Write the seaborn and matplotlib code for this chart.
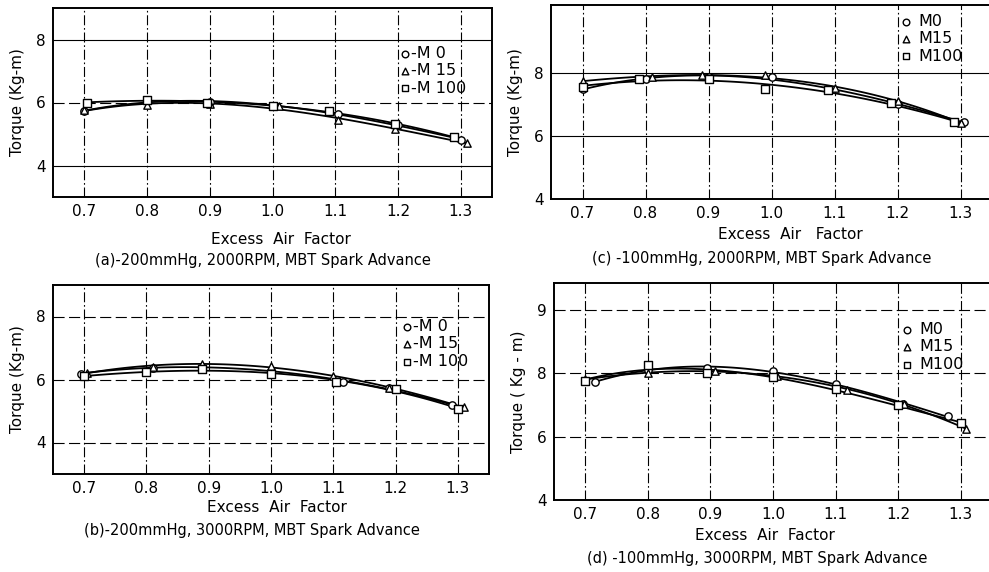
import numpy as np
import pandas as pd
import seaborn as sns
import matplotlib
matplotlib.use("Agg")
import matplotlib.pyplot as plt

sns.set_style("white")
plt.rcParams['font.family'] = ['DejaVu Sans']
plt.rcParams['text.color'] = 'black'
plt.rcParams['axes.labelcolor'] = 'black'

# ---------------- data ----------------
# (a) -200mmHg, 2000RPM
a_m0_x = [0.70, 0.80, 0.90, 1.00, 1.105, 1.20, 1.30]
a_m0_y = [5.72, 6.05, 6.03, 5.88, 5.62, 5.30, 4.82]
a_m15_x = [0.70, 0.80, 0.90, 1.01, 1.105, 1.195, 1.31]
a_m15_y = [5.75, 5.92, 5.95, 5.88, 5.45, 5.15, 4.72]
a_m100_x = [0.705, 0.80, 0.895, 1.00, 1.09, 1.195, 1.29]
a_m100_y = [6.00, 6.08, 6.00, 5.90, 5.72, 5.32, 4.90]

# (b) -200mmHg, 3000RPM
b_m0_x = [0.695, 0.81, 0.89, 1.00, 1.115, 1.19, 1.29]
b_m0_y = [6.19, 6.38, 6.38, 6.28, 5.93, 5.72, 5.20]
b_m15_x = [0.705, 0.81, 0.89, 1.00, 1.10, 1.19, 1.31]
b_m15_y = [6.22, 6.40, 6.50, 6.43, 6.11, 5.72, 5.12]
b_m100_x = [0.70, 0.80, 0.89, 1.00, 1.105, 1.20, 1.30]
b_m100_y = [6.10, 6.24, 6.32, 6.17, 5.93, 5.70, 5.06]

# (c) -100mmHg, 2000RPM
c_m0_x = [0.70, 0.80, 0.90, 1.00, 1.09, 1.20, 1.305]
c_m0_y = [7.48, 7.81, 7.88, 7.88, 7.45, 7.02, 6.43]
c_m15_x = [0.70, 0.81, 0.89, 0.99, 1.10, 1.20, 1.30]
c_m15_y = [7.75, 7.86, 7.92, 7.92, 7.52, 7.10, 6.42]
c_m100_x = [0.70, 0.79, 0.90, 0.99, 1.09, 1.19, 1.29]
c_m100_y = [7.55, 7.80, 7.80, 7.48, 7.45, 7.04, 6.45]

# (d) -100mmHg, 3000RPM
d_m0_x = [0.715, 0.80, 0.895, 1.00, 1.10, 1.207, 1.28]
d_m0_y = [7.73, 8.10, 8.18, 8.07, 7.67, 7.02, 6.64]
d_m15_x = [0.70, 0.80, 0.908, 1.007, 1.119, 1.21, 1.308]
d_m15_y = [7.81, 8.00, 8.07, 7.92, 7.46, 7.02, 6.25]
d_m100_x = [0.70, 0.80, 0.895, 1.00, 1.10, 1.20, 1.30]
d_m100_y = [7.76, 8.25, 8.00, 7.87, 7.49, 6.99, 6.44]

x_ticks = [0.7, 0.8, 0.9, 1.0, 1.1, 1.2, 1.3]
x_tick_labels = ["0.7", "0.8", "0.9", "1.0", "1.1", "1.2", "1.3"]
y_ticks_abc = [4, 6, 8]
y_ticks_d = [4, 6, 8, 10]
y_tick_labels_d = ["4", "6", "8", "9"]

legend_ab = ["-M 0", "-M 15", "-M 100"]
legend_cd = ["M0", "M15", "M100"]
markers = ["o", "^", "s"]

captions = {
    "a": "(a)-200mmHg, 2000RPM, MBT Spark Advance",
    "b": "(b)-200mmHg, 3000RPM, MBT Spark Advance",
    "c": "(c) -100mmHg, 2000RPM, MBT Spark Advance",
    "d": "(d) -100mmHg, 3000RPM, MBT Spark Advance",
}

W, H = 989, 572
fig = plt.figure(figsize=(W / 100, H / 100), dpi=100)
fig.patch.set_facecolor("white")


def ax_at(left, top, right, bottom):
    return fig.add_axes([left / W, 1 - bottom / H, (right - left) / W, (bottom - top) / H])


DASHDOT = (0, (9, 2.5, 1.5, 2.5))
DASHED = (0, (10, 4))


def draw(ax, series, labels, ylim, yticks, yticklabels, hstyles, leg_anchor, ylab, handletextpad):
    for (xs, ys), lab, mk in zip(series, labels, markers):
        df = pd.DataFrame({"x": xs, "y": ys})
        sns.regplot(data=df, x="x", y="y", order=3, ci=None, ax=ax, color="black",
                    marker=mk, label=lab, truncate=True,
                    scatter_kws=dict(s=28, facecolors="white", edgecolors="black",
                                     linewidths=1.0, alpha=1, zorder=4),
                    line_kws=dict(lw=1.3, zorder=3))
    ax.set_xlim(0.65, 1.35)
    ax.set_ylim(*ylim)
    ax.set_xticks(x_ticks)
    ax.set_xticklabels(x_tick_labels)
    ax.set_yticks(yticks)
    ax.set_yticklabels(yticklabels)
    ax.tick_params(axis="both", length=0, pad=5, labelsize=11, colors="black")
    ax.xaxis.grid(True, color="black", lw=0.8, linestyle=DASHDOT)
    ax.yaxis.grid(True, color="black", lw=0.8)
    for gl, st in zip(ax.yaxis.get_gridlines(), hstyles):
        gl.set_linestyle(st)
    ax.set_axisbelow(True)
    for sp in ax.spines.values():
        sp.set_visible(True)
        sp.set_color("black")
        sp.set_linewidth(1.4)
    ax.set_xlabel("")
    ax.set_ylabel(ylab, fontsize=11, labelpad=8, color="black")
    ax.legend(loc="upper left", bbox_to_anchor=leg_anchor, frameon=False,
              fontsize=11.5, handlelength=0.6, handletextpad=handletextpad,
              labelspacing=0.15, borderpad=0, borderaxespad=0, markerscale=0.9,
              labelcolor="black")


# (a)
ax_a = ax_at(53, 8, 492, 197)
draw(ax_a, [(a_m0_x, a_m0_y), (a_m15_x, a_m15_y), (a_m100_x, a_m100_y)], legend_ab,
     (3, 9), y_ticks_abc, ["4", "6", "8"], ["-", DASHED, "-"], (0.79, 0.80),
     "Torque (Kg-m)", 0.1)
# (c)
ax_c = ax_at(551, 5, 992, 199)
draw(ax_c, [(c_m0_x, c_m0_y), (c_m15_x, c_m15_y), (c_m100_x, c_m100_y)], legend_cd,
     (4, 10.15), y_ticks_abc, ["4", "6", "8"], ["-", "-", "-"], (0.795, 0.955),
     "Torque (Kg-m)", 0.45)
# (b)
ax_b = ax_at(53, 285, 489, 474)
draw(ax_b, [(b_m0_x, b_m0_y), (b_m15_x, b_m15_y), (b_m100_x, b_m100_y)], legend_ab,
     (3, 9), y_ticks_abc, ["4", "6", "8"], [DASHED, DASHED, DASHED], (0.8, 0.82),
     "Torque (Kg-m)", 0.1)
# (d)
ax_d = ax_at(554, 283, 992, 500)
draw(ax_d, [(d_m0_x, d_m0_y), (d_m15_x, d_m15_y), (d_m100_x, d_m100_y)], legend_cd,
     (4, 10.85), y_ticks_d, y_tick_labels_d, [DASHED, DASHED, DASHED, DASHED], (0.795, 0.82),
     "Torque ( Kg - m)", 0.45)

# x labels & captions
fig.text(281 / W, 1 - 240 / H, "Excess  Air  Factor", ha="center", va="center", fontsize=11, color="black")
fig.text(263 / W, 1 - 260 / H, captions["a"], ha="center", va="center", fontsize=10.5, color="black")
fig.text(790 / W, 1 - 234 / H, "Excess  Air   Factor", ha="center", va="center", fontsize=11, color="black")
fig.text(762 / W, 1 - 258 / H, captions["c"], ha="center", va="center", fontsize=10.5, color="black")
fig.text(277 / W, 1 - 508 / H, "Excess  Air  Factor", ha="center", va="center", fontsize=11, color="black")
fig.text(252 / W, 1 - 530 / H, captions["b"], ha="center", va="center", fontsize=10.5, color="black")
fig.text(765 / W, 1 - 535 / H, "Excess  Air  Factor", ha="center", va="center", fontsize=11, color="black")
fig.text(757 / W, 1 - 558 / H, captions["d"], ha="center", va="center", fontsize=10.5, color="black")

fig.savefig("out.png", dpi=100, facecolor="white")
